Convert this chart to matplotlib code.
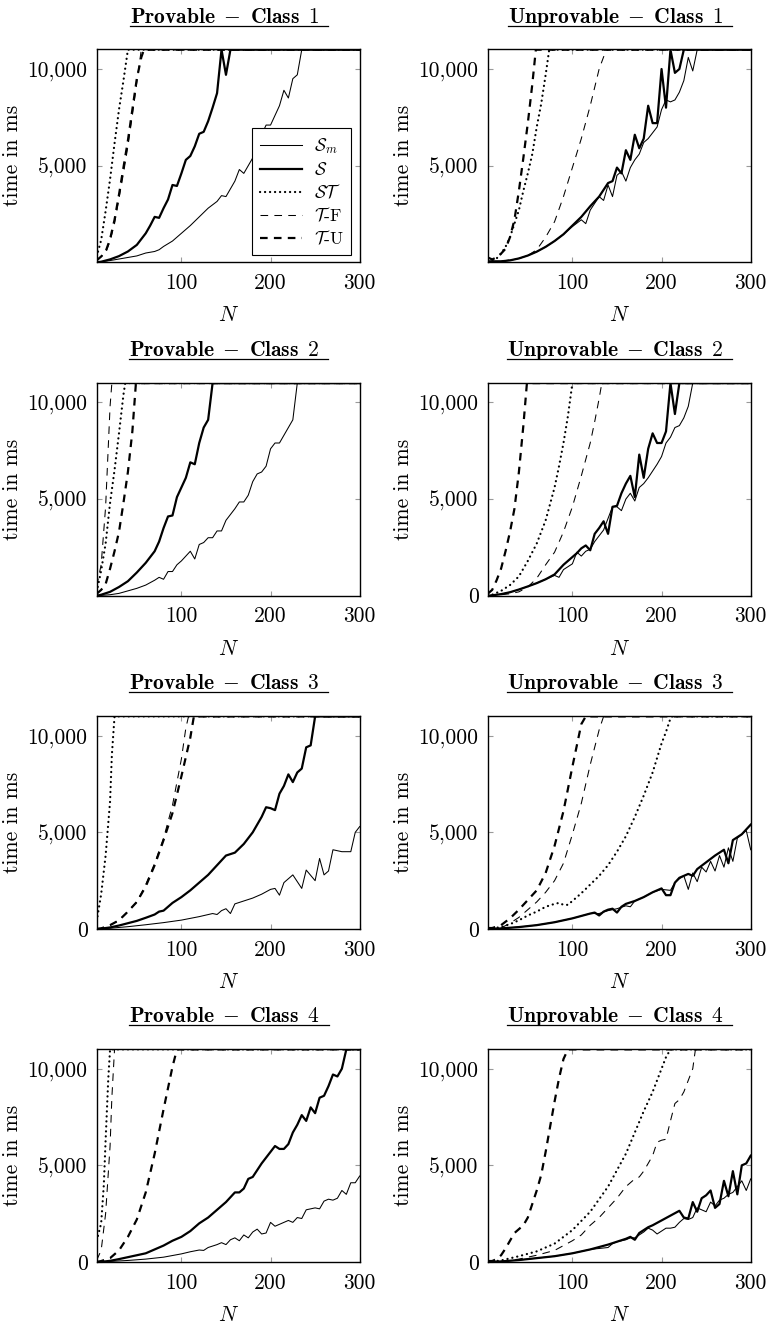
import matplotlib
matplotlib.use("Agg")
import matplotlib.pyplot as plt
from matplotlib.lines import Line2D

plt.rcParams.update({
    'font.family': 'cmr10',
    'mathtext.fontset': 'cm',
    'axes.formatter.use_mathtext': True,
    'axes.unicode_minus': False,
    'lines.scale_dashes': False,
})

# ---------------- data (N, time in ms; 11000 = timeout) ----------------
TIMEOUT = 11000

# Provable - Class 1
P1_SM_N = [5,10,20,30,40,50,60,70,75,80,90,100,110,120,130,140,145,150,160,165,170,180,185,190,195,200,210,215,220,225,230,235,300]
P1_SM_T = [0,30,90,170,250,330,480,560,650,820,1100,1500,1900,2350,2800,3150,3450,3400,4200,4800,4600,5400,6300,6600,7100,7100,8100,8900,8500,9500,9700,11000,11000]
P1_S_N = [5,10,20,30,40,50,60,65,70,75,80,85,90,95,100,105,110,115,120,125,130,135,140,145,150,155,300]
P1_S_T = [0,30,150,320,560,900,1500,1900,2350,2300,2800,3250,4000,3950,4600,5300,5500,6000,6650,6750,7300,8000,8750,11000,9700,11000,11000]
P1_ST_N = [5,10,15,20,25,30,35,40,300]
P1_ST_T = [300,1150,2650,4300,6150,7900,9400,11000,11000]
P1_TF_N = [5,10,15,20,25,30,35,40,45,50,55,300]
P1_TF_T = [100,300,500,1100,2000,3300,4600,6000,7600,9300,11000,11000]
P1_TU_N = [5,10,15,20,25,30,35,40,45,50,55,58,300]
P1_TU_T = [100,300,550,1200,2200,3500,4900,6300,7900,9500,10600,11000,11000]

# Unprovable - Class 1
U1_SM_N = [5,10,20,30,40,50,60,70,80,90,100,110,115,120,130,135,140,145,150,155,160,165,170,175,180,185,190,195,200,205,210,215,220,225,230,235,240,300]
U1_SM_T = [50,50,50,100,200,350,550,800,1100,1450,1850,2200,2000,2700,3400,3200,4000,3400,4500,4700,4200,4900,5300,5600,6200,6400,6700,7000,7900,8400,8300,8400,8800,9400,10600,9900,11000,11000]
U1_S_N = [5,10,20,30,40,50,60,70,80,90,100,110,120,130,140,145,150,155,160,165,170,175,180,185,190,195,200,205,210,215,220,225,300]
U1_S_T = [50,50,50,100,200,350,550,800,1100,1450,1900,2350,2900,3400,4100,4200,4900,4600,5800,5300,6600,5900,6400,8100,7200,7200,10000,8000,11000,9800,10000,11000,11000]
U1_ST_N = [5,10,15,20,25,30,35,40,45,50,55,60,65,70,74,300]
U1_ST_T = [50,100,200,450,800,1300,2000,2700,3700,4600,5600,7000,8200,9700,11000,11000]
U1_TF_N = [5,20,40,50,60,70,80,90,100,110,120,130,138,300]
U1_TF_T = [0,50,200,350,650,1300,2100,3400,4900,6400,8100,10000,11000,11000]
U1_TU_N = [5,10,15,20,25,30,35,40,45,50,55,59,300]
U1_TU_T = [250,150,250,450,700,1300,2200,3700,5400,7200,9200,11000,11000]

# Provable - Class 2
P2_SM_N = [5,20,30,40,50,60,70,75,80,85,90,95,100,105,110,115,120,125,130,135,140,145,150,155,160,165,170,175,180,185,190,195,200,205,210,215,220,225,230,300]
P2_SM_T = [0,50,120,250,380,550,800,950,850,1250,1250,1600,1800,2050,2300,1900,2650,2750,3000,3000,3350,3350,3900,4200,4500,4850,4850,5200,5900,6300,6400,6700,7600,7900,7900,8300,8700,9100,11000,11000]
P2_S_N = [5,10,20,30,40,50,60,70,75,80,85,90,95,100,105,110,115,120,125,130,135,300]
P2_S_T = [0,50,200,450,750,1200,1700,2300,2800,3500,4100,4150,5100,5600,6100,6900,6800,7900,8700,9100,11000,11000]
P2_ST_N = [5,10,15,20,25,30,35,37,300]
P2_ST_T = [200,1300,2700,4800,6500,8400,10400,11000,11000]
P2_TF_N = [5,10,15,20,22,300]
P2_TF_T = [500,1600,4600,9800,11000,11000]
P2_TU_N = [5,10,15,20,25,30,35,40,45,49,300]
P2_TU_T = [100,300,600,1400,2300,3300,4800,6400,8500,11000,11000]

# Unprovable - Class 2
U2_SM_N = [5,10,20,30,40,50,60,70,80,85,90,95,100,105,110,115,120,125,130,135,140,145,150,155,160,165,170,175,180,185,190,195,200,205,210,215,220,225,230,235,300]
U2_SM_T = [0,20,80,180,320,480,650,850,1050,950,1350,1500,1650,2250,2050,2300,2400,2800,3100,3400,4000,4600,4600,4400,5000,5300,4900,5600,5800,6100,6450,6800,7200,7900,8200,8700,8800,9200,9800,11000,11000]
U2_S_N = [5,10,20,30,40,50,60,70,80,85,90,95,100,105,110,115,120,125,130,135,140,145,150,155,160,165,170,175,180,185,190,195,200,205,210,215,220,300]
U2_S_T = [0,20,80,180,320,480,650,850,1100,1350,1600,1800,2000,2200,2450,2600,2350,3200,3500,3850,3200,4600,4650,5300,5800,6200,5100,7300,6100,7600,8400,7900,7900,8500,11000,9400,11000,11000]
U2_ST_N = [5,10,20,30,40,50,60,70,80,85,90,95,100,300]
U2_ST_T = [0,50,250,550,1000,1800,2700,3900,5600,6700,7900,9300,11000,11000]
U2_TF_N = [5,20,30,40,50,60,70,80,90,100,110,120,125,130,133,300]
U2_TF_T = [0,50,100,200,450,900,1600,2250,3300,4600,6200,7900,9000,10200,11000,11000]
U2_TU_N = [5,10,15,20,25,30,35,40,45,49,300]
U2_TU_T = [100,300,800,1400,2300,3300,4500,6400,8800,11000,11000]

# Provable - Class 3
P3_SM_N = [5,20,40,60,80,100,120,135,140,145,150,155,160,170,180,190,200,205,210,215,225,235,240,250,255,260,265,270,280,290,295,300]
P3_SM_T = [0,40,120,220,330,460,640,800,750,950,1050,800,1300,1450,1600,1800,2050,2100,1750,2400,2800,2100,3050,2500,3650,2800,3000,4100,4000,4000,5000,5300]
P3_S_N = [5,10,20,30,40,50,60,70,75,80,90,100,110,120,130,140,150,160,170,180,190,195,200,205,210,215,220,225,230,235,240,245,250,300]
P3_S_T = [0,20,80,180,300,420,580,750,900,950,1350,1650,2000,2400,2800,3300,3800,3950,4400,5000,5800,6300,6250,6150,7000,7400,8000,7600,8100,8300,9400,9500,11000,11000]
P3_ST_N = [5,10,15,20,22,25,300]
P3_ST_T = [400,1800,3800,6600,9000,11000,11000]
P3_TF_N = [5,10,20,30,40,50,60,70,80,90,100,105,108,300]
P3_TF_T = [0,30,200,450,900,1400,2300,3400,4700,6400,8800,10400,11000,11000]
P3_TU_N = [5,10,20,30,40,50,60,70,80,90,100,110,114,300]
P3_TU_T = [0,30,200,450,900,1400,2200,3300,4600,6000,7900,9900,11000,11000]

# Unprovable - Class 3
U3_SM_N = [5,20,40,60,80,100,120,130,140,150,160,165,170,180,190,200,210,215,220,225,230,235,240,245,250,255,260,265,270,275,280,285,290,295,300]
U3_SM_T = [0,30,100,200,350,550,800,800,950,1050,1200,1150,1450,1650,1900,2050,2000,2400,2600,2750,2050,2900,2450,3200,2950,3500,3000,3800,3200,4200,3500,4700,4900,5100,4100]
U3_S_N = [5,20,40,60,80,100,120,125,130,135,140,145,150,155,160,170,180,190,200,205,210,215,220,230,235,240,250,260,270,275,280,290,300]
U3_S_T = [0,30,100,200,350,550,800,850,700,900,1000,1050,850,1150,1300,1450,1650,1900,2100,1750,1750,2400,2650,2850,2750,3100,3450,3800,4100,3400,4600,4900,5400]
U3_ST_N = [5,20,30,40,50,60,70,80,85,90,95,100,110,120,130,140,150,160,170,180,190,200,205,210,212,300]
U3_ST_T = [0,100,250,450,700,900,1150,1300,1350,1250,1250,1450,1850,2300,2750,3300,4000,4800,5800,6900,8100,9600,10200,10900,11000,11000]
U3_TF_N = [5,20,30,40,50,60,70,80,90,100,110,120,130,135,300]
U3_TF_T = [0,50,300,600,1000,1400,1900,2500,3400,4900,6500,8500,10300,11000,11000]
U3_TU_N = [5,10,20,30,40,50,60,70,80,90,100,110,115,300]
U3_TU_T = [50,50,200,550,1000,1500,2000,2900,4300,6100,8400,10600,11000,11000]

# Provable - Class 4
P4_SM_N = [5,20,40,60,80,100,110,120,125,130,140,145,150,155,160,165,170,175,180,185,190,195,200,205,210,220,225,230,235,240,245,250,255,260,265,270,275,280,285,290,295,300]
P4_SM_T = [0,30,80,150,250,420,530,620,600,750,900,1000,900,1150,1250,1100,1400,1250,1550,1700,1450,1500,2050,1850,1950,2150,2050,2300,2250,2700,2750,2800,2750,3150,3250,3200,3300,3700,3500,4100,4100,4450]
P4_S_N = [5,10,20,30,40,50,60,70,80,90,100,110,120,130,140,150,160,165,170,175,180,190,200,205,210,215,220,225,230,235,240,245,250,255,260,265,270,275,280,285,300]
P4_S_T = [0,10,60,150,250,350,450,650,850,1100,1300,1600,2000,2300,2700,3100,3600,3600,3800,4300,4400,5100,5700,6000,5850,5850,6100,6700,7100,7600,7300,8000,7700,8500,8600,9100,9700,9600,10000,11000,11000]
P4_ST_N = [5,10,13,15,18,20,300]
P4_ST_T = [1100,2000,4000,6300,9500,11000,11000]
P4_TF_N = [5,10,15,20,22,25,300]
P4_TF_T = [100,600,2500,6000,8500,11000,11000]
P4_TU_N = [5,10,20,30,40,50,60,70,80,90,95,300]
P4_TU_T = [0,50,200,600,1300,2200,3600,5600,7900,10100,11000,11000]

# Unprovable - Class 4
U4_SM_N = [5,20,40,60,80,100,120,140,145,150,160,165,170,175,180,185,190,195,200,205,210,215,220,225,230,235,240,245,250,255,260,265,270,275,280,285,290,295,300]
U4_SM_T = [0,30,100,200,300,450,650,750,950,1050,1150,1250,1250,1400,1550,1750,1650,1450,1600,1750,1750,1800,2050,2250,2200,2300,2800,2700,2600,3100,2900,3200,3300,3500,3600,3900,4200,3700,4300]
U4_S_N = [5,20,40,60,80,100,120,140,150,160,165,170,175,180,185,190,200,210,220,225,230,235,240,245,250,255,260,265,270,275,280,285,290,295,300]
U4_S_T = [0,30,100,200,300,450,650,900,1050,1200,1300,1150,1500,1650,1800,1900,2150,2400,2650,2300,2250,3100,2600,3300,3450,3700,2800,3000,4200,3400,4700,3500,5000,5100,5500]
U4_ST_N = [5,20,40,60,80,100,120,140,160,170,180,190,200,205,210,300]
U4_ST_T = [0,80,300,550,950,1650,2600,3900,5600,6700,7800,8800,10000,10600,11000,11000]
U4_TF_N = [5,20,40,60,80,100,110,120,130,140,150,160,170,175,180,190,195,200,205,210,215,220,225,230,235,238,300]
U4_TF_T = [0,30,150,350,600,1100,1400,1900,2300,2800,3300,3900,4300,4400,4700,5500,6200,6300,6350,7300,8200,8400,8800,9400,10000,11000,11000]
U4_TU_N = [5,10,15,20,25,30,35,40,45,50,55,60,65,70,75,80,85,90,95,300]
U4_TU_T = [50,50,150,350,700,1100,1500,1700,1900,2300,3000,3700,4500,5700,7000,8300,9500,10500,11000,11000]

SERIES_LABELS = [r"$\mathcal{S}_m$", r"$\mathcal{S}$", r"$\mathcal{ST}$",
                 r"$\mathcal{T}$-F", r"$\mathcal{T}$-U"]
PANEL_TITLES = [
    (r"$\mathbf{Provable}\enspace{-}\enspace\mathbf{Class}\enspace 1$", r"$\mathbf{Unprovable}\enspace{-}\enspace\mathbf{Class}\enspace 1$"),
    (r"$\mathbf{Provable}\enspace{-}\enspace\mathbf{Class}\enspace 2$", r"$\mathbf{Unprovable}\enspace{-}\enspace\mathbf{Class}\enspace 2$"),
    (r"$\mathbf{Provable}\enspace{-}\enspace\mathbf{Class}\enspace 3$", r"$\mathbf{Unprovable}\enspace{-}\enspace\mathbf{Class}\enspace 3$"),
    (r"$\mathbf{Provable}\enspace{-}\enspace\mathbf{Class}\enspace 4$", r"$\mathbf{Unprovable}\enspace{-}\enspace\mathbf{Class}\enspace 4$"),
]
X_TICKS = [100, 200, 300]
Y_TICKS_FULL = [0, 5000, 10000]
Y_TICKS_NOZERO = [5000, 10000]

PANELS = [
    [(P1_SM_N, P1_SM_T), (P1_S_N, P1_S_T), (P1_ST_N, P1_ST_T), (P1_TF_N, P1_TF_T), (P1_TU_N, P1_TU_T)],
    [(U1_SM_N, U1_SM_T), (U1_S_N, U1_S_T), (U1_ST_N, U1_ST_T), (U1_TF_N, U1_TF_T), (U1_TU_N, U1_TU_T)],
    [(P2_SM_N, P2_SM_T), (P2_S_N, P2_S_T), (P2_ST_N, P2_ST_T), (P2_TF_N, P2_TF_T), (P2_TU_N, P2_TU_T)],
    [(U2_SM_N, U2_SM_T), (U2_S_N, U2_S_T), (U2_ST_N, U2_ST_T), (U2_TF_N, U2_TF_T), (U2_TU_N, U2_TU_T)],
    [(P3_SM_N, P3_SM_T), (P3_S_N, P3_S_T), (P3_ST_N, P3_ST_T), (P3_TF_N, P3_TF_T), (P3_TU_N, P3_TU_T)],
    [(U3_SM_N, U3_SM_T), (U3_S_N, U3_S_T), (U3_ST_N, U3_ST_T), (U3_TF_N, U3_TF_T), (U3_TU_N, U3_TU_T)],
    [(P4_SM_N, P4_SM_T), (P4_S_N, P4_S_T), (P4_ST_N, P4_ST_T), (P4_TF_N, P4_TF_T), (P4_TU_N, P4_TU_T)],
    [(U4_SM_N, U4_SM_T), (U4_S_N, U4_S_T), (U4_ST_N, U4_ST_T), (U4_TF_N, U4_TF_T), (U4_TU_N, U4_TU_T)],
]
SHOW_ZERO = [False, False, False, True, True, True, True, True]

# ---------------- styles ----------------
STYLES = [
    dict(color='black', lw=0.75, ls='-'),
    dict(color='black', lw=1.6, ls='-'),
    dict(color='black', lw=1.6, ls=(0, (0.1, 3.5)), dash_capstyle='round'),
    dict(color='black', lw=0.75, ls=(0, (5.5, 4.5))),
    dict(color='black', lw=1.6, ls=(0, (5.5, 4.5))),
]

W, H = 770, 1324
fig = plt.figure(figsize=(W / 100, H / 100), dpi=100)

COL_X = [96.7, 487.7]
ROW_TOP = [49.3, 382.7, 716.0, 1049.0]
AX_W, AX_H = 263.0, 213.0
FS = 15.5
TITLE_FS = 15.5

titles = []
for i, series in enumerate(PANELS):
    r, c = divmod(i, 2)
    x0 = COL_X[c]
    top = ROW_TOP[r]
    ax = fig.add_axes([x0 / W, 1 - (top + AX_H) / H, AX_W / W, AX_H / H])
    lines = []
    for (n, t), st in zip(series, STYLES):
        ln, = ax.plot(n, t, **st)
        lines.append(ln)
    ax.set_xlim(5, 300)
    ax.set_ylim(0, TIMEOUT + 20)
    ax.set_xticks(X_TICKS, [str(v) for v in X_TICKS])
    yt = Y_TICKS_FULL if SHOW_ZERO[i] else Y_TICKS_NOZERO
    ax.set_yticks(yt, [f"{v:,}" for v in yt])
    ax.tick_params(direction='in', length=3.5, width=0.8, color='#9a9a9a',
                   top=True, right=True, labelsize=FS, pad=6.5)
    ax.tick_params(axis='x', pad=8)
    for sp in ax.spines.values():
        sp.set_linewidth(1.0)
    ax.set_xlabel(r"$N$", fontsize=FS)
    ax.xaxis.set_label_coords(0.5, -0.205)
    ax.set_ylabel("time in ms", fontsize=FS)
    ax.yaxis.set_label_coords(-0.285, 0.5)
    t = ax.text(0.485, 1 + 26.6 / AX_H, PANEL_TITLES[r][c], transform=ax.transAxes,
                ha='center', va='baseline', fontsize=TITLE_FS)
    titles.append((t, top))
    if i == 0:
        leg = ax.legend(lines, SERIES_LABELS, loc='lower right',
                        bbox_to_anchor=(0.968, 0.034), borderaxespad=0,
                        fontsize=12.5, handlelength=2.4, labelspacing=0.28,
                        fancybox=False, framealpha=1, edgecolor='black',
                        borderpad=0.45, handletextpad=0.7)
        leg.get_frame().set_linewidth(0.8)

fig.canvas.draw()
renderer = fig.canvas.get_renderer()
for t, top in titles:
    bb = t.get_window_extent(renderer)
    y_px = top - 23.8
    fig.add_artist(Line2D([bb.x0 / W, (bb.x1 + 9) / W], [1 - y_px / H, 1 - y_px / H],
                          transform=fig.transFigure, color='black', lw=0.9))

fig.savefig("out.png", dpi=100)
